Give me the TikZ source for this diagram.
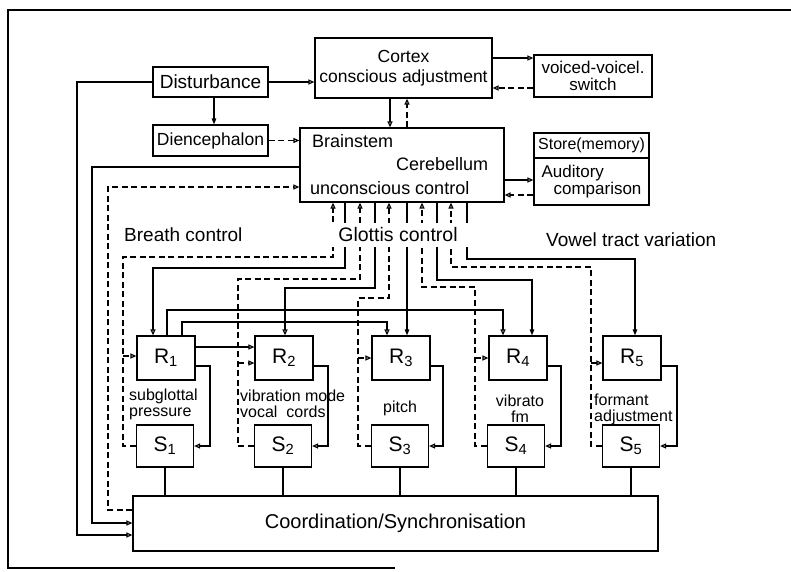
\documentclass[tikz,border=0pt]{standalone}
\usepackage{fontspec}
\setmainfont{Liberation Sans}
\usetikzlibrary{arrows.meta}
\newcommand{\fsz}[1]{\fontsize{#1}{#1}\selectfont}
\begin{document}
\begin{tikzpicture}[x=1pt,y=-1pt,
  ln/.style={line width=1.2pt},
  dsh/.style={dash pattern=on 6pt off 3.5pt},
  oa/.style={-{Triangle[open,length=6pt,width=5pt]}},
  fa/.style={-{Triangle[length=6pt,width=4.5pt]}},
  box/.style={draw,line width=1.2pt,inner sep=1pt,align=center},
  rbox/.style={box,minimum width=58pt,minimum height=44pt,font=\fsz{21}},
  sbox/.style={box,minimum width=57pt,minimum height=42pt,font=\fsz{21}},
  txt/.style={inner sep=0pt,font=\fsz{18}},
  small/.style={inner sep=0pt,font=\fsz{16},align=left}]
\useasboundingbox (0,0) rectangle (791,571);
% frame
\draw[line width=1.2pt] (791,10) -- (8,10) -- (8,568) -- (395,568);
% upper boxes
\node[box,minimum width=177pt,minimum height=60pt,font=\fsz{17.5}] (cortex) at (403.5,68) {Cortex\\[2pt]conscious adjustment};
\node[box,minimum width=118pt,minimum height=42pt,font=\fsz{17}] (voiced) at (593,76) {voiced-voicel.\\switch};
\node[box,minimum width=115pt,minimum height=30pt,font=\fsz{19}] (dist) at (210.5,82) {Disturbance};
\node[box,minimum width=115pt,minimum height=31pt,font=\fsz{17.5}] (dien) at (210.5,140.5) {Diencephalon};
\node[box,minimum width=204pt,minimum height=74pt] (brain) at (402,165) {};
\node[txt,anchor=west] (tb1) at (312,141) {Brainstem};
\node[txt,anchor=west] (tb2) at (396,164) {Cerebellum};
\node[txt,anchor=west] (tb3) at (310,188) {unconscious control};
\node[box,minimum width=115pt,minimum height=25pt,font=\fsz{16}] (store) at (591.5,145.5) {Store(memory)};
\node[box,minimum width=115pt,minimum height=47pt,font=\fsz{17},align=left] (audit) at (591.5,181.5) {Auditory\\\hspace*{12pt}comparison};
% coordination
\node[box,minimum width=525pt,minimum height=55pt,font=\fsz{20}] (coord) at (395.5,523.5) {Coordination/Synchronisation};
% R and S boxes
\node[rbox] (R1) at (166,358) {R\textsubscript{1}};
\node[rbox] (R2) at (284,358) {R\textsubscript{2}};
\node[rbox] (R3) at (401,358) {R\textsubscript{3}};
\node[rbox] (R4) at (518,358) {R\textsubscript{4}};
\node[rbox] (R5) at (632,358) {R\textsubscript{5}};
\node[sbox] (S1) at (165,446) {S\textsubscript{1}};
\node[sbox] (S2) at (283,446) {S\textsubscript{2}};
\node[sbox] (S3) at (400,446) {S\textsubscript{3}};
\node[sbox] (S4) at (516,446) {S\textsubscript{4}};
\node[sbox] (S5) at (631,446) {S\textsubscript{5}};
% upper connectors
\draw[ln,oa] (dist.east) -- (cortex.west |- dist.east);
\draw[ln,fa] (dist.south -| 214,0) -- (dien.north -| 214,0);
\draw[ln,dsh,oa] (dien.east) -- (brain.west |- dien.east);
\draw[ln,oa] (cortex.south -| 390,0) -- (brain.north -| 390,0);
\draw[ln,dsh,oa] (brain.north -| 407,0) -- (cortex.south -| 407,0);
\draw[ln,oa] (cortex.east |- 0,58) -- (voiced.west |- 0,58);
\draw[ln,dsh,oa] (voiced.west |- 0,88) -- (cortex.east |- 0,88);
\draw[ln,oa] (brain.east |- 0,180) -- (audit.west |- 0,180);
\draw[ln,dsh,oa] (audit.west |- 0,195) -- (brain.east |- 0,195);
% left connectors
\draw[ln,oa] (dist.west) -| (77,535) -- (coord.west |- 0,535);
\draw[ln,oa] (brain.west |- 0,167) -| (92,523) -- (coord.west |- 0,523);
\draw[ln,dsh,oa] (coord.west |- 0,510) -| (108,187) -- (brain.west |- 0,187);
% dashed feedback S -> brainstem and R
\coordinate (b1) at (123,356);
\coordinate (b2) at (238,363);
\coordinate (b3) at (358,358);
\coordinate (b4) at (475,358);
\coordinate (b5) at (591,363);
\draw[ln,dsh,oa] (S1.west) -| (123,257) -| (brain.south -| 333,0);
\draw[ln,dsh,oa] (b1) -- (R1.west |- b1);
\draw[ln,dsh,oa] (S2.west) -| (238,279) -| (brain.south -| 360,0);
\draw[ln,dsh,oa] (b2) -- (R2.west |- b2);
\draw[ln,dsh,oa] (S3.west) -| (358,298) -| (brain.south -| 389,0);
\draw[ln,dsh,oa] (b3) -- (R3.west |- b3);
\draw[ln,dsh,oa] (S4.west) -| (475,287) -| (brain.south -| 422,0);
\draw[ln,dsh,oa] (b4) -- (R4.west |- b4);
\draw[ln,dsh,oa] (S5.west) -| (591,267) -| (brain.south -| 451,0);
\draw[ln,dsh,oa] (b5) -- (R5.west |- b5);
% solid control brainstem -> R
\draw[ln,oa] (brain.south -| 345,0) |- (153,268) -- (R1.north -| 153,0);
\draw[ln,oa] (brain.south -| 375,0) |- (285,288) -- (R2.north -| 285,0);
\draw[ln,fa] (brain.south -| 407,0) -- (R3.north -| 407,0);
\draw[ln,fa] (brain.south -| 437,0) |- (532,280) -- (R4.north -| 532,0);
\draw[ln,fa] (brain.south -| 467,0) |- (635,259) -- (R5.north -| 635,0);
% R1 to others
\draw[ln,oa] (R1.north -| 167,0) |- (503,310) -- (R4.north -| 503,0);
\draw[ln,oa] (R1.north -| 182,0) |- (387,322) -- (R3.north -| 387,0);
\draw[ln,oa] (R1.east |- 0,347) -- (R2.west |- 0,347);
% R -> S loops
\draw[ln,oa] (R1.east |- 0,366) -| (210,446) -- (S1.east);
\draw[ln,oa] (R2.east |- 0,366) -| (328,446) -- (S2.east);
\draw[ln,oa] (R3.east |- 0,366) -| (443,446) -- (S3.east);
\draw[ln,oa] (R4.east |- 0,366) -| (561,446) -- (S4.east);
\draw[ln,oa] (R5.east |- 0,366) -| (677,446) -- (S5.east);
% S -> coordination
\foreach \s in {S1,S2,S3,S4,S5}
  \draw[ln] (\s.south) -- (coord.north -| \s.south);
% labels
\node[txt,fill=white,minimum width=146pt,minimum height=24pt,font=\fsz{19.5}] (lglottis) at (398,235) {Glottis control};
\node[txt,anchor=west,font=\fsz{19}] (lbreath) at (124,235) {Breath control};
\node[txt,anchor=west,font=\fsz{19}] (lvowel) at (546,240) {Vowel tract variation};
\node[small,anchor=west] (l1) at (129,404) {subglottal\\pressure};
\node[small,anchor=west] (l2) at (240,404) {vibration mode\\vocal\ \ cords};
\node[small] (l3) at (400,408) {pitch};
\node[small,align=center] (l4) at (520,409) {vibrato\\fm};
\node[small,anchor=west] (l5) at (594,409) {formant\\adjustment};
\end{tikzpicture}
\end{document}
